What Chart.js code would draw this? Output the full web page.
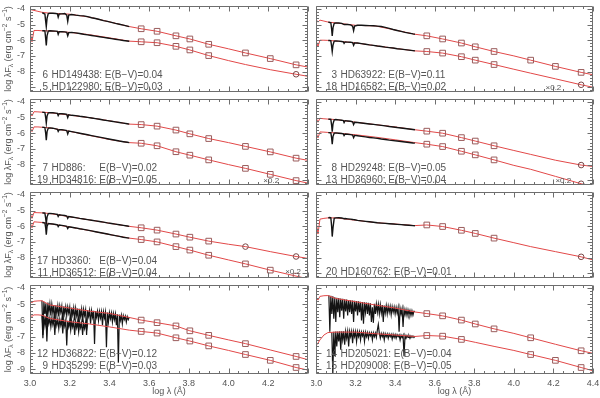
<!DOCTYPE html>
<html><head><meta charset="utf-8">
<script src="https://cdn.jsdelivr.net/npm/chart.js@4.4.1/dist/chart.umd.min.js"></script>
<style>
html,body{margin:0;padding:0;background:#fff;}
body{width:600px;height:398px;position:relative;overflow:hidden;}
canvas{position:absolute;}
</style></head><body>
<script>
// ---------- shared grids ----------
const MODEL_X = [3.0, 3.01, 3.02, 3.04, 3.06, 3.1, 3.2, 3.3, 3.4, 3.5, 3.56, 3.64, 3.735, 3.805, 3.9, 4.0, 4.085, 4.21, 4.34, 4.4];
const HOT_X = [3.062, 3.07, 3.075, 3.079, 3.082, 3.086, 3.092, 3.1, 3.115, 3.13, 3.138, 3.142, 3.147, 3.16, 3.175, 3.185, 3.19, 3.195, 3.21, 3.23, 3.25, 3.27, 3.29, 3.31, 3.33, 3.35, 3.37, 3.39, 3.41, 3.43, 3.45, 3.47, 3.49, 3.5];
const PHOT_X = [3.56, 3.64, 3.735, 3.805, 3.90, 4.085, 4.21, 4.34];
const X_TICKS = [3.0, 3.2, 3.4, 3.6, 3.8, 4.0, 4.2, 4.4];
const X_LABELS = ['3.0', '3.2', '3.4', '3.6', '3.8', '4.0', '4.2', '4.4'];
const Y_TICKS = [-9, -8, -7, -6, -5, -4];
const Y_LABELS = ['-9', '-8', '-7', '-6', '-5', '-4'];

// ---------- model curves (red) ----------
const m6  = [-4.04,-4.07,-4.10,-4.16,-4.22,-4.28,-4.34,-4.53,-4.83,-5.13,-5.27,-5.43,-5.72,-5.92,-6.26,-6.55,-6.81,-7.17,-7.57,-7.71];
const m5  = [-5.42,-6.10,-5.38,-5.38,-5.40,-5.41,-5.50,-5.65,-5.85,-6.06,-6.10,-6.16,-6.39,-6.62,-6.98,-7.30,-7.55,-7.88,-8.17,-8.30];
const m3  = [-4.67,-4.85,-4.72,-4.78,-4.84,-4.90,-5.05,-5.09,-5.35,-5.62,-5.72,-5.92,-6.18,-6.42,-6.72,-7.00,-7.27,-7.67,-8.05,-8.20];
const m18 = [-6.02,-6.40,-6.00,-6.00,-6.01,-6.05,-6.17,-6.35,-6.52,-6.68,-6.72,-6.82,-7.05,-7.27,-7.55,-7.85,-8.10,-8.46,-8.84,-9.00];
const m7  = [-4.65,-4.90,-4.63,-4.64,-4.66,-4.69,-4.85,-5.01,-5.21,-5.42,-5.45,-5.55,-5.80,-6.04,-6.34,-6.60,-6.84,-7.19,-7.59,-7.73];
const m19 = [-5.61,-5.90,-5.60,-5.60,-5.62,-5.66,-5.88,-6.14,-6.40,-6.60,-6.64,-6.80,-7.18,-7.40,-7.70,-8.00,-8.24,-8.62,-9.02,-9.18];
const m8  = [-5.00,-5.30,-5.05,-5.08,-5.10,-5.13,-5.30,-5.45,-5.60,-5.78,-5.87,-6.00,-6.28,-6.50,-6.80,-7.10,-7.35,-7.72,-8.03,-8.12];
const m13 = [-5.95,-6.30,-5.92,-5.93,-5.95,-5.98,-6.10,-6.25,-6.42,-6.60,-6.70,-6.85,-7.15,-7.38,-7.70,-8.05,-8.30,-8.75,-9.22,-9.40];
const m17 = [-5.15,-5.50,-5.13,-5.14,-5.15,-5.19,-5.40,-5.60,-5.81,-6.01,-6.10,-6.25,-6.50,-6.70,-6.95,-7.15,-7.30,-7.62,-7.93,-8.05];
const m11 = [-5.74,-6.10,-5.72,-5.74,-5.76,-5.84,-6.05,-6.28,-6.53,-6.76,-6.85,-7.00,-7.30,-7.52,-7.85,-8.15,-8.40,-8.80,-9.18,-9.35];
const m20 = [-5.67,-6.50,-5.55,-5.50,-5.47,-5.47,-5.62,-5.77,-5.86,-5.96,-5.92,-6.02,-6.26,-6.46,-6.76,-7.05,-7.30,-7.62,-7.95,-8.15];
const m12 = [-4.85,-4.90,-4.82,-4.80,-4.79,-5.05,-5.24,-5.43,-5.57,-5.82,-5.98,-6.14,-6.34,-6.64,-6.92,-7.20,-7.43,-7.82,-8.22,-8.42];
const m9  = [-5.68,-5.75,-5.66,-5.66,-5.68,-5.88,-6.08,-6.22,-6.40,-6.60,-6.68,-6.78,-7.07,-7.27,-7.57,-7.85,-8.10,-8.46,-8.90,-9.06];
const m14 = [-4.59,-4.75,-4.52,-4.48,-4.47,-4.65,-4.85,-5.05,-5.24,-5.48,-5.58,-5.72,-5.98,-6.22,-6.52,-6.80,-7.07,-7.47,-7.87,-8.03];
const m15 = [-7.55,-7.40,-7.20,-6.90,-6.75,-6.72,-6.72,-6.82,-6.90,-6.99,-6.93,-6.97,-7.17,-7.35,-7.60,-7.85,-8.10,-8.46,-8.90,-9.10];

// ---------- UV spectra (black), hot stars on HOT_X ----------
const sp6  = [-4.25,-4.30,-4.33,-4.80,-5.13,-4.60,-4.30,-4.28,-4.28,-4.30,-4.32,-4.53,-4.33,-4.32,-4.30,-4.40,-4.80,-4.40,-4.36,-4.40,-4.43,-4.45,-4.50,-4.57,-4.62,-4.68,-4.75,-4.80,-4.86,-4.93,-4.98,-5.04,-5.10,-5.13];
const sp5  = [-5.40,-5.39,-5.40,-5.90,-6.33,-5.70,-5.42,-5.40,-5.41,-5.42,-5.44,-5.62,-5.46,-5.46,-5.47,-5.50,-5.72,-5.52,-5.50,-5.53,-5.57,-5.62,-5.66,-5.70,-5.74,-5.78,-5.82,-5.86,-5.90,-5.94,-5.98,-6.02,-6.05,-6.07];
const sp3  = [-4.85,-4.87,-4.88,-5.30,-5.72,-5.20,-4.92,-4.90,-4.90,-4.93,-4.98,-5.00,-4.99,-5.00,-5.02,-5.10,-5.39,-5.10,-5.05,-5.05,-5.06,-5.07,-5.08,-5.10,-5.13,-5.18,-5.25,-5.32,-5.38,-5.44,-5.50,-5.55,-5.60,-5.62];
const sp18 = [-6.02,-6.02,-6.04,-6.40,-6.72,-6.30,-6.06,-6.05,-6.06,-6.08,-6.10,-6.20,-6.11,-6.12,-6.13,-6.15,-6.32,-6.17,-6.18,-6.22,-6.26,-6.30,-6.33,-6.37,-6.40,-6.44,-6.47,-6.50,-6.54,-6.57,-6.60,-6.63,-6.66,-6.68];
const sp7  = [-4.66,-4.67,-4.68,-5.00,-5.35,-4.90,-4.70,-4.69,-4.70,-4.72,-4.74,-4.88,-4.76,-4.76,-4.78,-4.80,-5.00,-4.83,-4.86,-4.88,-4.92,-4.95,-4.99,-5.03,-5.07,-5.11,-5.16,-5.20,-5.24,-5.28,-5.32,-5.36,-5.40,-5.42];
const sp19 = [-5.62,-5.63,-5.64,-6.00,-6.44,-5.90,-5.67,-5.66,-5.68,-5.72,-5.75,-5.88,-5.77,-5.78,-5.80,-5.83,-6.05,-5.86,-5.90,-5.95,-6.00,-6.05,-6.10,-6.15,-6.20,-6.25,-6.30,-6.35,-6.40,-6.45,-6.50,-6.54,-6.58,-6.60];
const sp8  = [-5.10,-5.11,-5.12,-5.50,-5.90,-5.40,-5.15,-5.13,-5.15,-5.17,-5.19,-5.32,-5.20,-5.22,-5.24,-5.27,-5.45,-5.30,-5.32,-5.35,-5.38,-5.41,-5.44,-5.47,-5.50,-5.53,-5.57,-5.60,-5.64,-5.67,-5.70,-5.73,-5.76,-5.78];
const sp13 = [-5.96,-5.97,-5.98,-6.30,-6.70,-6.20,-6.00,-5.98,-6.00,-6.02,-6.04,-6.15,-6.05,-6.07,-6.09,-6.12,-6.28,-6.14,-6.16,-6.20,-6.23,-6.27,-6.30,-6.33,-6.37,-6.40,-6.44,-6.47,-6.50,-6.53,-6.56,-6.59,-6.62,-6.63];
const sp17 = [-5.15,-5.16,-5.17,-5.50,-5.84,-5.40,-5.20,-5.19,-5.20,-5.23,-5.25,-5.38,-5.27,-5.29,-5.32,-5.35,-5.50,-5.38,-5.41,-5.45,-5.50,-5.54,-5.58,-5.62,-5.66,-5.70,-5.74,-5.79,-5.83,-5.87,-5.91,-5.95,-5.99,-6.01];
const sp11 = [-5.76,-5.78,-5.79,-6.10,-6.54,-6.00,-5.83,-5.84,-5.86,-5.89,-5.91,-6.02,-5.93,-5.95,-5.98,-6.01,-6.15,-6.04,-6.07,-6.11,-6.16,-6.20,-6.25,-6.30,-6.35,-6.40,-6.45,-6.50,-6.55,-6.60,-6.65,-6.70,-6.74,-6.76];
const sp20 = [-5.46,-5.45,-5.46,-6.00,-6.66,-6.10,-5.50,-5.47,-5.46,-5.48,-5.50,-5.52,-5.51,-5.53,-5.55,-5.57,-5.58,-5.59,-5.63,-5.66,-5.69,-5.72,-5.75,-5.78,-5.80,-5.82,-5.84,-5.86,-5.88,-5.90,-5.92,-5.94,-5.96,-5.97];

// ---------- dense UV spectra of cool stars (x = start + i*0.005) ----------
const sp12_x0 = 3.060;
const sp12 = [-4.78,-6.90,-4.85,-5.60,-4.95,-6.30,-4.90,-5.50,-4.98,-5.70,-5.02,-5.55,-5.05,-6.10,-5.07,-5.60,-5.10,-5.75,-5.10,-5.50,
  -5.13,-6.20,-5.14,-5.60,-5.16,-5.70,-5.17,-5.55,-5.19,-6.40,-5.21,-5.65,-5.23,-6.00,-5.25,-5.70,-5.27,-6.60,-5.29,-5.75,
  -5.31,-6.10,-5.33,-5.70,-5.35,-6.90,-5.37,-5.75,-5.39,-6.20,-5.40,-5.80,-5.41,-7.45,-5.43,-5.80,-5.44,-6.00,-5.45,-5.85,
  -5.47,-6.30,-5.48,-5.85,-5.50,-7.65,-5.52,-6.10,-5.53,-5.90,-5.55,-6.10,-5.58,-5.95,-5.60,-6.30,-5.62,-8.60,-5.65,-6.00,
  -5.68,-6.20,-5.71,-5.95,-5.74,-6.10,-5.77,-5.95,-5.79];
const sp9_x0 = 3.060;
const sp9 = [-5.68,-7.10,-5.72,-6.30,-5.75,-7.30,-5.78,-6.20,-5.84,-6.40,-5.86,-6.25,-5.88,-6.90,-5.90,-6.30,-5.92,-6.50,-5.94,-6.30,
  -5.96,-6.80,-5.98,-6.35,-6.00,-7.55,-6.02,-6.40,-6.04,-6.60,-6.05,-6.40,-6.07,-6.90,-6.08,-6.45,-6.10,-6.70,-6.11,-6.45,
  -6.13,-6.90,-6.15,-6.50,-6.16,-6.60,-6.18];
const sp14_x0 = 3.065;
const sp14 = [-4.45,-6.70,-4.48,-5.60,-4.52,-5.90,-4.57,-6.10,-4.60,-5.50,-4.62,-5.80,-4.65,-5.40,-4.67,-5.90,-4.70,-5.45,-4.72,-5.70,
  -4.74,-5.50,-4.76,-5.60,-4.78,-6.10,-4.79,-5.45,-4.81,-5.70,-4.83,-5.50,-4.85,-6.00,-4.87,-6.20,-4.89,-5.50,-4.90,-5.60,
  -4.92,-5.70,-4.94,-6.10,-5.20,-6.15,-4.98,-5.60,-5.00,-5.50,-5.02,-5.60,-5.04,-5.55,-5.06,-6.10,-5.08,-5.55,-5.10,-5.60,
  -5.12,-5.50,-5.14,-5.65,-5.16,-5.50,-5.18,-5.60,-5.20,-5.55,-5.22,-6.70,-5.25,-5.60,-5.28,-6.40,-5.31,-5.65,-5.34,-5.70,
  -5.36,-5.65,-5.39,-5.70,-5.41,-5.68,-5.43,-5.45];
const sp15_x0 = 3.080;
const sp15 = [-6.75,-9.30,-6.70,-8.20,-6.68,-7.60,-6.68,-7.30,-6.67,-7.80,-6.67,-7.20,-6.67,-7.50,-6.68,-7.10,-6.68,-7.60,-6.68,-7.00,
  -6.68,-7.40,-6.69,-7.00,-6.69,-7.30,-6.70,-7.00,-6.71,-7.20,-6.72,-6.95,-6.73,-7.30,-6.74,-7.00,-6.75,-7.10,-6.76,-6.95,
  -6.77,-7.20,-6.77,-7.00,-6.78,-7.05,-6.60,-6.25,-6.79,-7.10,-6.80,-7.00,-6.81,-7.20,-6.82,-7.00,-6.83,-7.10,-6.84,-7.00,
  -6.85,-7.15,-6.86,-7.05,-6.87,-7.10,-6.88,-7.00,-6.89,-7.20,-6.90,-7.05,-6.91,-8.20,-6.92,-7.10,-6.93,-7.05,-6.94,-7.10,
  -6.95,-7.05,-6.96,-7.05,-6.97];

// ---------- photometry (null = not observed) ----------
const ph6  = [-5.27,-5.43,-5.72,-5.92,-6.26,-6.81,-7.17,-7.57];
const ph5  = [-6.10,-6.16,-6.39,-6.62,-6.98,null,null,-8.17];
const ph3  = [-5.72,-5.92,-6.18,-6.42,-6.72,-7.27,-7.67,-8.05];
const ph18 = [-6.72,-6.82,-7.05,-7.27,-7.55,null,null,-8.84];
const ph7  = [-5.45,-5.55,-5.80,-6.04,-6.34,-6.84,-7.19,-7.59];
const ph19 = [-6.64,-6.80,-7.18,-7.40,-7.70,-8.24,-8.62,-9.02];
const ph8  = [-5.87,-6.00,-6.28,-6.50,-6.80,null,null,-8.03];
const ph13 = [-6.70,-6.85,-7.15,-7.38,-7.70,null,null,-9.22];
const ph17 = [-6.10,-6.25,-6.50,-6.70,-6.95,-7.30,null,-7.93];
const ph11 = [-6.85,-7.00,-7.30,-7.52,-7.85,-8.40,-8.80,-9.18];
const ph20 = [-5.92,-6.02,-6.26,-6.46,-6.76,null,null,-7.95];
const ph12 = [-5.98,-6.14,-6.34,-6.64,-6.92,-7.43,null,-8.22];
const ph9  = [-6.68,-6.78,-7.07,-7.27,-7.57,-8.10,-8.46,-8.90];
const ph14 = [-5.58,-5.72,-5.98,-6.22,-6.52,-7.07,null,-7.87];
const ph15 = [-6.93,-6.97,-7.17,null,null,-8.10,-8.46,-8.90];

// ---------- panel layout ----------
function grid(x0, n) { const a = []; for (let i = 0; i < n; i++) a.push(+(x0 + i * 0.005).toFixed(3)); return a; }
function star(num, name, ebv, model, specX, spec, phot, circ) { return {num, name, ebv, model, specX, spec, phot, circ}; }
const PANELS = [
  {row:0, col:0, dense:false, scaleTag:null, stars:[
    star('6','HD149438:','0.04', m6, HOT_X, sp6, ph6, []),
    star('5','HD122980:','0.03', m5, HOT_X, sp5, ph5, [7])]},
  {row:0, col:1, dense:false, scaleTag:{xv:4.16, dy:82}, stars:[
    star('3','HD63922:','0.11', m3, HOT_X, sp3, ph3, []),
    star('18','HD16582:','0.02', m18, HOT_X, sp18, ph18, [7])]},
  {row:1, col:0, dense:false, scaleTag:{xv:4.175, dy:82}, stars:[
    star('7','HD886:','0.02', m7, HOT_X, sp7, ph7, []),
    star('19','HD34816:','0.05', m19, HOT_X, sp19, ph19, [])]},
  {row:1, col:1, dense:false, scaleTag:{xv:4.21, dy:82}, stars:[
    star('8','HD29248:','0.05', m8, HOT_X, sp8, ph8, [7]),
    star('13','HD36960:','0.04', m13, HOT_X, sp13, ph13, [7])]},
  {row:2, col:0, dense:false, scaleTag:{xv:4.285, dy:80}, stars:[
    star('17','HD3360:','0.04', m17, HOT_X, sp17, ph17, [5,7]),
    star('11','HD36512:','0.04', m11, HOT_X, sp11, ph11, [])]},
  {row:2, col:1, dense:false, scaleTag:null, single:true, stars:[
    star('20','HD160762:','0.01', m20, HOT_X, sp20, ph20, [7])]},
  {row:3, col:0, dense:true, scaleTag:null, stars:[
    star('12','HD36822:','0.12', m12, grid(sp12_x0, sp12.length), sp12, ph12, []),
    star('9','HD35299:','0.03', m9, grid(sp9_x0, sp9.length), sp9, ph9, [])]},
  {row:3, col:1, dense:true, scaleTag:null, stars:[
    star('14','HD205021:','0.04', m14, grid(sp14_x0, sp14.length), sp14, ph14, []),
    star('15','HD209008:','0.05', m15, grid(sp15_x0, sp15.length), sp15, ph15, [])]}
];
const ROW_TOP = [3, 96, 189, 282];
const FONT = '"Liberation Sans", Arial, sans-serif';
const TXT = '#555';
Chart.defaults.font.family = FONT;

function drawYTitle(ctx, cx, cy) {
  const parts = [['log λF', 9, 0], ['λ', 6.5, 2], [' (erg cm', 9, 0], ['−2', 6.5, -3.5], [' s', 9, 0], ['−1', 6.5, -3.5], [')', 9, 0]];
  ctx.save();
  ctx.translate(cx, cy); ctx.rotate(-Math.PI / 2);
  ctx.fillStyle = TXT; ctx.textBaseline = 'middle'; ctx.textAlign = 'left';
  let tot = 0;
  parts.forEach(p => { ctx.font = p[1] + 'px ' + FONT; tot += ctx.measureText(p[0]).width; });
  let xx = -tot / 2;
  parts.forEach(p => { ctx.font = p[1] + 'px ' + FONT; ctx.fillText(p[0], xx, p[2]); xx += ctx.measureText(p[0]).width; });
  ctx.restore();
}

function makeChart(p, idx) {
  const left = p.col === 0, bottom = p.row === 3;
  const T = ROW_TOP[p.row];
  const W = left ? 313 : 289, H = bottom ? 118 : 96;
  const cv = document.createElement('canvas');
  cv.width = W; cv.height = H;
  cv.style.left = (left ? 0 : 311) + 'px'; cv.style.top = (T - 2) + 'px';
  cv.style.width = W + 'px'; cv.style.height = H + 'px';
  document.body.appendChild(cv);

  const datasets = [];
  p.stars.forEach(s => {
    const sq = [], ci = [];
    PHOT_X.forEach((x, i) => {
      if (s.phot[i] === null) return;
      (s.circ.includes(i) ? ci : sq).push({x, y: s.phot[i]});
    });
    datasets.push({data: sq, showLine: false, pointStyle: 'rect', pointRadius: 4, pointBorderWidth: 1,
      pointBorderColor: '#9a5c5c', pointBackgroundColor: 'rgba(0,0,0,0)', order: 0});
    datasets.push({data: ci, showLine: false, pointStyle: 'circle', pointRadius: 2.8, pointBorderWidth: 1,
      pointBorderColor: '#7a4848', pointBackgroundColor: 'rgba(0,0,0,0)', order: 0});
    datasets.push({data: s.specX.map((x, i) => ({x, y: s.spec[i]})), showLine: true, borderColor: '#141414',
      borderWidth: p.dense ? 1.2 : 1.4, pointRadius: 0, tension: 0, order: p.dense ? 2 : 1});
    datasets.push({data: MODEL_X.map((x, i) => ({x, y: s.model[i]})), showLine: true, borderColor: 'rgb(226,72,72)',
      borderWidth: 1, pointRadius: 0, tension: 0, order: p.dense ? 1 : 2});
  });

  const framePlugin = {
    id: 'frame' + idx,
    afterDraw(chart) {
      const {ctx, chartArea: a} = chart;
      const xs = chart.scales.x, ys = chart.scales.y;
      ctx.save();
      ctx.strokeStyle = '#6e6e6e'; ctx.lineWidth = 1;
      const L = Math.round(a.left) + 0.5, R = Math.round(a.right) - 0.5;
      const Tp = Math.round(a.top) + 0.5, B = Math.round(a.bottom) - 0.5;
      ctx.beginPath();
      ctx.rect(L, Tp, R - L, B - Tp);
      for (let k = 0; k <= 28; k++) {
        const px = Math.round(xs.getPixelForValue(3.0 + k * 0.05)) + 0.5;
        const len = (k % 4 === 0) ? 5 : 2.5;
        ctx.moveTo(px, B); ctx.lineTo(px, B - len);
        ctx.moveTo(px, Tp); ctx.lineTo(px, Tp + len);
      }
      for (let k = 0; k <= 26; k++) {
        const v = -9.2 + k * 0.2;
        const py = Math.round(ys.getPixelForValue(v)) + 0.5;
        const len = (Math.abs(v - Math.round(v)) < 1e-6) ? 5 : 2.5;
        ctx.moveTo(L, py); ctx.lineTo(L + len, py);
        ctx.moveTo(R, py); ctx.lineTo(R - len, py);
      }
      ctx.stroke();

      // annotations
      ctx.fillStyle = TXT; ctx.font = '10px ' + FONT; ctx.textBaseline = 'middle';
      const numR = a.left + (left ? 18 : 21), nameL = numR + 3.5;
      let maxW = 0;
      p.stars.forEach(s => { maxW = Math.max(maxW, ctx.measureText(s.name).width); });
      const ebvL = nameL + maxW + ctx.measureText(' ').width;
      p.stars.forEach((s, j) => {
        const yy = a.top + (p.single ? 80.5 : (j === 0 ? 69.5 : 81));
        ctx.textAlign = 'right'; ctx.fillText(s.num, numR, yy);
        ctx.textAlign = 'left'; ctx.fillText(s.name, nameL, yy);
        ctx.fillText('E(B−V)=' + s.ebv, ebvL, yy);
      });
      if (p.scaleTag) {
        ctx.font = '8px ' + FONT; ctx.textAlign = 'left';
        ctx.fillText('×0.2', xs.getPixelForValue(p.scaleTag.xv), a.top + p.scaleTag.dy);
      }
      if (left) drawYTitle(ctx, 9, (a.top + a.bottom) / 2);
      if (bottom) {
        ctx.font = '9px ' + FONT; ctx.textAlign = 'center'; ctx.fillStyle = TXT;
        ctx.fillText('log λ (Å)', (a.left + a.right) / 2, a.bottom + 18);
      }
      ctx.restore();
    }
  };

  new Chart(cv, {
    type: 'scatter',
    data: {datasets},
    options: {
      responsive: false, animation: false, events: [],
      layout: {padding: {left: left ? 0 : 2, right: left ? 3 : 7, top: 2, bottom: 2}},
      plugins: {legend: {display: false}, tooltip: {enabled: false}},
      scales: {
        x: {type: 'linear', min: 3.0, max: 4.4, display: bottom,
          grid: {display: false, drawTicks: false}, border: {display: false},
          afterBuildTicks: sc => { sc.ticks = X_TICKS.filter(v => left ? v < 4.3 : true).map(v => ({value: v})); },
          afterFit: sc => { sc.height = bottom ? 22 : 0; sc.paddingLeft = 0; sc.paddingRight = 0; sc.paddingTop = 0; sc.paddingBottom = 0; },
          ticks: {padding: 4, color: TXT, font: {size: 9}, maxRotation: 0, autoSkip: false,
            callback: v => X_LABELS[X_TICKS.findIndex(t => Math.abs(t - v) < 1e-6)]}},
        y: {type: 'linear', min: -9.3, max: -3.82, display: left,
          grid: {display: false, drawTicks: false}, border: {display: false},
          afterBuildTicks: sc => { sc.ticks = Y_TICKS.filter(v => bottom ? true : v > -8.5).map(v => ({value: v})); },
          afterFit: sc => { sc.width = left ? 30 : 0; sc.paddingLeft = 0; sc.paddingRight = 0; sc.paddingTop = 0; sc.paddingBottom = 0; },
          ticks: {padding: 5, color: TXT, font: {size: 9}, autoSkip: false,
            callback: v => Y_LABELS[Y_TICKS.indexOf(Math.round(v))]}}
      }
    },
    plugins: [framePlugin]
  });
}
PANELS.forEach(makeChart);
</script>
</body></html>
